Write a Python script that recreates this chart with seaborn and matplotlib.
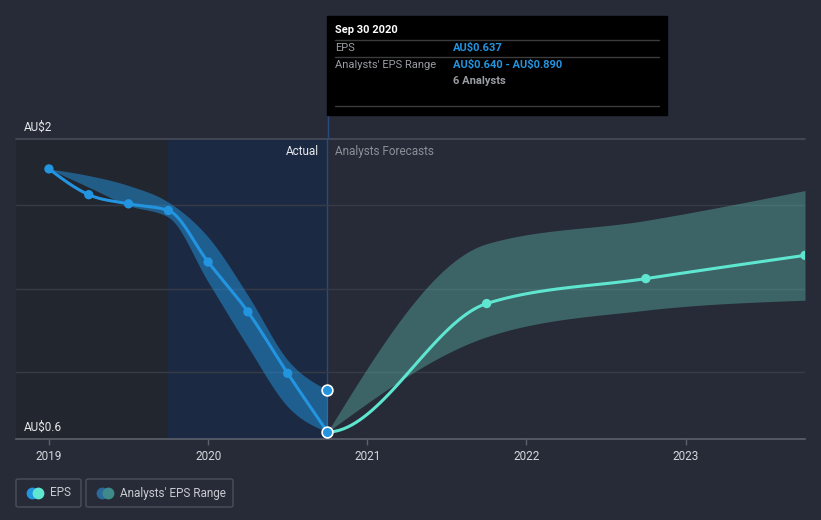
import numpy as np
import pandas as pd
import matplotlib
matplotlib.use("Agg")
import matplotlib.pyplot as plt
from matplotlib.patches import Rectangle, FancyBboxPatch
import seaborn as sns

# Datos (años decimales, AU$)
actual_x = [2019.0, 2019.25, 2019.5, 2019.75, 2020.0, 2020.25, 2020.5, 2020.75]
actual_eps = [2.22, 2.065, 2.01, 1.97, 1.66, 1.36, 0.99, 0.637]
past_hi = [2.22, 2.18, 2.12, 2.02, 1.81, 1.46, 1.07, 0.89]
past_lo = [2.22, 2.11, 2.00, 1.93, 1.54, 1.15, 0.79, 0.637]

fc_x = [2020.75, 2021.75, 2022.75, 2023.75]
fc_eps = [0.637, 1.41, 1.56, 1.70]
fc_hi = [0.637, 1.77, 1.91, 2.09]
fc_lo = [0.637, 1.21, 1.37, 1.43]

year_ticks = [2019, 2020, 2021, 2022, 2023]
grid_vals = [1.0, 1.5, 2.0]

W, H = 821, 520
BG = "#262b37"
BLUE = "#2394df"
TEAL = "#5ee6d0"


def monotone(xs, ys, start_slope=None, n=40):
    # curva monótona tipo d3 (solo para dibujar)
    xs = np.asarray(xs, float)
    ys = np.asarray(ys, float)
    h = np.diff(xs)
    d = np.diff(ys) / h
    t = np.zeros(len(xs))
    for i in range(1, len(xs) - 1):
        s0, s1 = d[i - 1], d[i]
        p = (s0 * h[i] + s1 * h[i - 1]) / (h[i - 1] + h[i])
        t[i] = (np.sign(s0) + np.sign(s1)) * min(abs(s0), abs(s1), 0.5 * abs(p))
    t[0] = (3 * d[0] - t[1]) / 2
    t[-1] = (3 * d[-1] - t[-2]) / 2
    if start_slope is not None:
        t[0] = start_slope
    px, py = [], []
    for i in range(len(xs) - 1):
        u = np.linspace(0, 1, n)
        h00 = 2 * u**3 - 3 * u**2 + 1
        h10 = u**3 - 2 * u**2 + u
        h01 = -2 * u**3 + 3 * u**2
        h11 = u**3 - u**2
        px.append(xs[i] + u * h[i])
        py.append(h00 * ys[i] + h10 * h[i] * t[i] + h01 * ys[i + 1] + h11 * h[i] * t[i + 1])
    return np.concatenate(px), np.concatenate(py)


def fx(x):
    return x / W


def fy(y):
    return 1 - y / H


sns.set_theme(style="dark")
plt.rcParams["font.family"] = ["Roboto", "DejaVu Sans"]

fig = plt.figure(figsize=(W / 100, H / 100), dpi=100, facecolor=BG)
ax = fig.add_axes([fx(16), fy(439), fx(805) - fx(16), fy(139) - fy(439)])
ax.set_facecolor(BG)
ax.set_xlim(2018.793, 2023.75)
ax.set_ylim(0.595, 2.40)

# zonas de fondo
ax.axvspan(2018.793, 2019.75, color="#22262f", zorder=0)
ax.axvspan(2019.75, 2020.75, color="#1b2a42", zorder=0)
ax.axvline(2020.75, color="#2a4a7a", lw=1, zorder=1)
fig.add_artist(plt.Line2D([fx(327.5), fx(327.5)], [fy(115), fy(139)], color="#2a4a7a", lw=1))

for g in grid_vals:
    ax.axhline(g, color="#363b47", lw=1, zorder=1)
ax.axhline(2.40, color="#474c58", lw=1.2, zorder=1, clip_on=False)

# bandas
bx, bh = monotone(actual_x, past_hi)
_, bl = monotone(actual_x, past_lo)
ax.fill_between(bx, bl, bh, color=BLUE, alpha=0.5, lw=0, zorder=2)

fx_, fh = monotone(fc_x, fc_hi)
_, fl = monotone(fc_x, fc_lo)
ax.fill_between(fx_, fl, fh, color="#5fb9ac", alpha=0.4, lw=0, zorder=2)

# lineas
ax_x, ax_y = monotone(actual_x, actual_eps)
sns.lineplot(x=ax_x, y=ax_y, color=BLUE, lw=2.2, ax=ax, sort=False, zorder=3)
fl_x, fl_y = monotone(fc_x, fc_eps, start_slope=0.0)
sns.lineplot(x=fl_x, y=fl_y, color=TEAL, lw=2.2, ax=ax, sort=False, zorder=3)

df_a = pd.DataFrame({"x": actual_x[:-1], "y": actual_eps[:-1]})
sns.scatterplot(data=df_a, x="x", y="y", color=BLUE, s=45, edgecolor="none", ax=ax, zorder=4)
df_f = pd.DataFrame({"x": fc_x[1:], "y": fc_eps[1:]})
sns.scatterplot(data=df_f, x="x", y="y", color=TEAL, s=45, edgecolor="none", ax=ax, zorder=4)
ax.scatter([actual_x[-1], actual_x[-1]], [actual_eps[-1], past_hi[-1]], s=60, color=BLUE,
           edgecolor="white", linewidth=1.2, zorder=5)

# ejes
for s in ["top", "right", "left"]:
    ax.spines[s].set_visible(False)
ax.spines["bottom"].set_color("#5b606b")
ax.spines["bottom"].set_linewidth(1.2)
ax.set_xticks(year_ticks)
ax.set_xticklabels([str(y) for y in year_ticks])
ax.set_yticks([])
ax.tick_params(axis="x", colors="#d5d8dd", labelsize=8.5, length=4, width=1, direction="out", pad=4,
               bottom=True)
ax.tick_params(axis="x", color="#5b606b")
ax.set_xlabel("")
ax.set_ylabel("")
ax.grid(False)

fig.text(fx(24), fy(127), "AU\\$2", color="#e6e8eb", fontsize=8.5, va="center")
fig.text(fx(24), fy(427), "AU\\$0.6", color="#e6e8eb", fontsize=8.5, va="center")
fig.text(fx(319), fy(151), "Actual", color="#e6e8eb", fontsize=8.5, va="center", ha="right")
fig.text(fx(335), fy(151), "Analysts Forecasts", color="#8a8f98", fontsize=8.5, va="center")

# tooltip
fig.add_artist(Rectangle((fx(327), fy(115)), fx(667) - fx(327), fy(16) - fy(115), color="black", zorder=10))
for yy in [40, 57, 106]:
    fig.add_artist(plt.Line2D([fx(335), fx(659)], [fy(yy), fy(yy)], color="#3c3c3c", lw=1, zorder=11))
fig.text(fx(335), fy(30), "Sep 30 2020", color="white", fontsize=8, fontweight="bold", va="center", zorder=12)
fig.text(fx(335), fy(48), "EPS", color="#9a9da3", fontsize=8, va="center", zorder=12)
fig.text(fx(453), fy(48), "AU\\$0.637", color=BLUE, fontsize=8, fontweight="bold", va="center", zorder=12)
fig.text(fx(335), fy(65), "Analysts' EPS Range", color="#9a9da3", fontsize=8, va="center", zorder=12)
fig.text(fx(453), fy(65), "AU\\$0.640 - AU\\$0.890", color=BLUE, fontsize=8, fontweight="bold", va="center",
         zorder=12)
fig.text(fx(453), fy(81), "6 Analysts", color="#9a9da3", fontsize=8, fontweight="bold", va="center", zorder=12)

# leyenda
for x0, x1 in [(16, 81), (86, 233)]:
    fig.add_artist(FancyBboxPatch((fx(x0), fy(507)), fx(x1) - fx(x0), fy(479) - fy(507),
                                  boxstyle="round,pad=0,rounding_size=0.003", fc="none", ec="#4a4f5a", lw=1))
legend_items = [(32, 38, BLUE, TEAL, 50, "EPS"), (102, 108, "#2a6a9a", "#3f8a8a", 120, "Analysts' EPS Range")]
for c1x, c2x, c1, c2, tx, label in legend_items:
    fig.add_artist(plt.Line2D([fx(c1x)], [fy(493)], marker="o", ms=8.5, color=c1, mec="none", ls=""))
    fig.add_artist(plt.Line2D([fx(c2x)], [fy(493)], marker="o", ms=8.5, color=c2, mec="none", ls=""))
    fig.text(fx(tx), fy(493), label, color="#c8cbd0", fontsize=8.5, va="center")

fig.savefig("out.png", dpi=100, facecolor=BG)
